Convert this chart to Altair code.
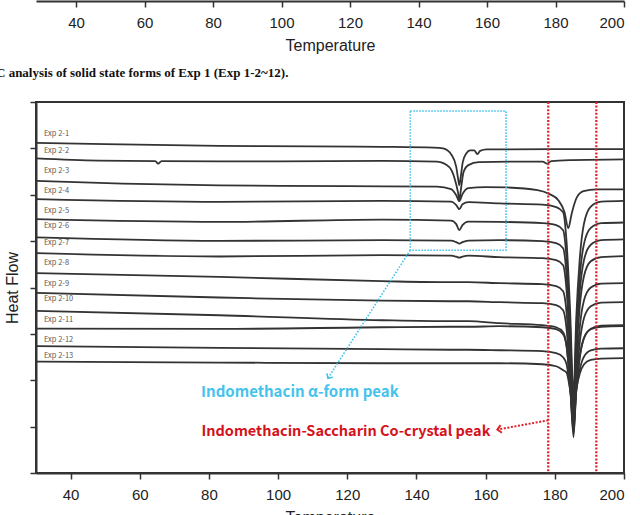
import altair as alt
import pandas as pd

# ---- DSC thermograms, Exp 2-1 .. Exp 2-13 (temperature in deg C, heat flow in stacked units) ----
exp1_t = [30, 50, 83, 110, 130, 145, 147.7, 150.2, 151.5, 152.1, 152.4, 152.8, 153.4, 154.4,
          155.5, 156.7, 157.6, 158.4, 160.3, 180, 200]
exp1_hf = [7.120, 7.092, 7.055, 7.042, 7.033, 7.016, 6.999, 6.854, 6.602, 6.315, 6.207, 6.386,
           6.710, 6.891, 6.956, 6.956, 6.876, 6.947, 6.977, 6.984, 6.984]

exp2_t = [30, 48, 64.5, 65.3, 66.3, 100, 130, 146, 149.5, 151, 152, 152.4, 152.9, 153.6, 155,
          158, 170, 176.5, 177.8, 179, 185, 200]
exp2_hf = [6.783, 6.736, 6.725, 6.671, 6.725, 6.718, 6.731, 6.714, 6.595, 6.358, 6.056, 5.883,
           6.142, 6.488, 6.639, 6.703, 6.714, 6.714, 6.671, 6.725, 6.746, 6.762]

exp3_t = [30, 55, 83, 120, 146, 150, 151.5, 152.4, 153.3, 155, 160, 166, 175, 178.5, 181,
          182.8, 183.9, 184.9, 186.4, 188.3, 192, 200]
exp3_hf = [6.300, 6.239, 6.201, 6.186, 6.175, 6.121, 5.991, 5.862, 6.013, 6.142, 6.164, 6.157,
           6.099, 6.013, 5.883, 5.625, 5.279, 5.603, 5.948, 6.078, 6.114, 6.114]

# common temperature grid for the runs showing the co-crystal melt
grid_t = [30, 83, 130, 150, 151.5, 152.4, 153.3, 155, 164, 176.4, 180.4, 182.4,
          183.4, 184.4, 185.4, 186.2, 187.2, 188.4, 190.4, 193.4, 200]
exp4_hf = [5.905, 5.847, 5.868, 5.851, 5.776, 5.689, 5.797, 5.840, 5.812, 5.786, 5.732, 5.625,
           4.982, 3.536, 1.676, 3.353, 4.611, 5.366, 5.743, 5.851, 5.868]
exp5_hf = [5.474, 5.415, 5.463, 5.441, 5.366, 5.236, 5.344, 5.420, 5.415, 5.387, 5.344, 5.236,
           4.619, 3.236, 1.461, 3.038, 4.220, 4.930, 5.284, 5.387, 5.402]
exp6_hf = [5.079, 5.005, 5.020, 5.010, 4.977, 4.945, 4.977, 5.010, 5.020, 4.999, 4.956, 4.848,
           4.265, 2.943, 1.245, 2.762, 3.899, 4.580, 4.921, 5.020, 5.036]
exp7_hf = [4.740, 4.669, 4.697, 4.686, 4.664, 4.643, 4.664, 4.686, 4.654, 4.632, 4.589, 4.481,
           3.929, 2.660, 1.029, 2.488, 3.581, 4.237, 4.565, 4.654, 4.675]
exp8_hf = [4.309, 4.229, 4.136, 4.114, 4.114, 4.114, 4.114, 4.114, 4.093, 4.071, 4.028, 3.920,
           3.458, 2.347, 0.921, 2.190, 3.141, 3.713, 3.998, 4.082, 4.093]
exp9_hf = [3.884, 3.784, 3.715, 3.704, 3.704, 3.704, 3.704, 3.704, 3.683, 3.661, 3.618, 3.510,
           3.100, 2.080, 0.770, 1.935, 2.809, 3.333, 3.597, 3.672, 3.683]
exp10_hf = [3.495, 3.402, 3.294, 3.273, 3.273, 3.273, 3.273, 3.273, 3.230, 3.187, 3.143, 3.036,
            2.738, 1.914, 0.857, 1.789, 2.488, 2.906, 3.111, 3.176, 3.187]
exp11_hf = [3.115, 3.107, 3.143, 3.154, 3.154, 3.154, 3.154, 3.154, 3.165, 3.143, 3.100, 2.992,
            2.725, 1.955, 0.964, 1.845, 2.505, 2.902, 3.100, 3.154, 3.165]
exp12_hf = [2.734, 2.697, 2.669, 2.658, 2.658, 2.658, 2.658, 2.658, 2.647, 2.626, 2.583, 2.496,
            2.345, 1.817, 1.137, 1.758, 2.224, 2.505, 2.643, 2.680, 2.690]
exp13_hf = [2.403, 2.382, 2.367, 2.367, 2.367, 2.367, 2.367, 2.367, 2.367, 2.345, 2.302, 2.216,
            2.164, 1.808, 1.353, 1.802, 2.138, 2.341, 2.442, 2.468, 2.475]

run_names = ["Exp 2-%d" % i for i in range(1, 14)]
run_label_hf = [7.307, 6.941, 6.509, 6.078, 5.646, 5.322, 4.956, 4.524, 4.071, 3.748, 3.294,
                2.863, 2.518]
label_t = 32.3

x_ticks = [40, 60, 80, 100, 120, 140, 160, 180, 200]
y_ticks = [0, 1, 2, 3, 4, 5, 6, 7, 8]

# annotation geometry (temperature / heat-flow units)
cocrystal_limits = [178.1, 192.0]
alpha_box = {"t0": 138.2, "t1": 165.9, "h0": 4.805, "h1": 7.804}
alpha_arrow = {"t0": 138.2, "h0": 4.805, "t1": 114.4, "h1": 2.043}
cocrystal_arrow = {"t0": 178.1, "h0": 1.137, "t1": 163.4, "h1": 0.936}
alpha_text = {"t": 106.3, "h": 1.741, "label": "Indomethacin α-form peak"}
cocrystal_text = {"t": 119.6, "h": 0.878, "label": "Indomethacin-Saccharin Co-crystal peak"}
caption = "C analysis of solid state forms of Exp 1 (Exp 1-2~12)."

CYAN = "#45C3EC"
RED = "#E0202A"
INK = "#333333"

# ---- long table of all runs ----
series = [(exp1_t, exp1_hf), (exp2_t, exp2_hf), (exp3_t, exp3_hf)] + [
    (grid_t, hf) for hf in [exp4_hf, exp5_hf, exp6_hf, exp7_hf, exp8_hf, exp9_hf, exp10_hf,
                            exp11_hf, exp12_hf, exp13_hf]]
rows = []
for name, (ts, hs) in zip(run_names, series):
    for t, h in zip(ts, hs):
        rows.append({"T": t, "HF": h, "run": name})
curves = pd.DataFrame(rows)
labels = pd.DataFrame({"T": [label_t] * len(run_names), "HF": run_label_hf, "run": run_names})

x_scale = alt.Scale(domain=[30, 200], nice=False, zero=False)
y_scale = alt.Scale(domain=[0, 8], nice=False, zero=False)

x_axis = alt.Axis(values=x_ticks, title="Temperature", grid=False, tickSize=6, labelPadding=15,
                  labelBaseline="middle", titleY=44, titleBaseline="middle")
y_axis = alt.Axis(values=y_ticks, labels=False, title="Heat Flow", grid=False, tickSize=6,
                  titleAngle=-90, titleX=-24, titleY=185.5, titleAlign="center",
                  titleBaseline="middle")


def X(field):
    return alt.X(field, type="quantitative", scale=x_scale, axis=x_axis, title="Temperature")


def Y(field):
    return alt.Y(field, type="quantitative", scale=y_scale, axis=y_axis, title="Heat Flow")


lines = alt.Chart(curves).mark_line(color=INK, strokeWidth=1.8, interpolate="monotone").encode(
    x=X("T"), y=Y("HF"), detail="run:N")

run_text = alt.Chart(labels).mark_text(
    align="left", baseline="middle", font="Noto Sans CJK KR", fontSize=7.5, color="#5a5a5a"
).encode(x=X("T"), y=Y("HF"), text="run:N")

box = alt.Chart(pd.DataFrame([alpha_box])).mark_rect(
    filled=False, stroke=CYAN, strokeWidth=1.5, strokeDash=[1.6, 1.4]
).encode(x=X("t0"), x2="t1", y=Y("h0"), y2="h1")

arrow_a = alt.Chart(pd.DataFrame([alpha_arrow])).mark_rule(
    color=CYAN, strokeWidth=1.6, strokeDash=[1.6, 1.6]
).encode(x=X("t0"), x2="t1", y=Y("h0"), y2="h1")
head_a = alt.Chart(pd.DataFrame([alpha_arrow])).mark_point(
    shape="M-1,-1L0,0L1,-1", filled=False, size=50, angle=33, color=CYAN, strokeWidth=1.6, opacity=1
).encode(x=X("t1"), y=Y("h1"))
text_a = alt.Chart(pd.DataFrame([alpha_text])).mark_text(
    font="Noto Sans CJK KR", fontWeight="bold", fontSize=15, color=CYAN, baseline="middle"
).encode(x=X("t"), y=Y("h"), text="label:N")

limits = alt.Chart(pd.DataFrame({"T": cocrystal_limits})).mark_rule(
    color=RED, strokeWidth=2.2, strokeDash=[2, 1.6]
).encode(x=X("T"))

arrow_c = alt.Chart(pd.DataFrame([cocrystal_arrow])).mark_rule(
    color=RED, strokeWidth=2, strokeDash=[2, 1.6]
).encode(x=X("t0"), x2="t1", y=Y("h0"), y2="h1")
head_c = alt.Chart(pd.DataFrame([cocrystal_arrow])).mark_point(
    shape="M-1,-1L0,0L1,-1", filled=False, size=60, angle=80, color=RED, strokeWidth=2, opacity=1
).encode(x=X("t1"), y=Y("h1"))
text_c = alt.Chart(pd.DataFrame([cocrystal_text])).mark_text(
    font="Noto Sans CJK KR", fontWeight="bold", fontSize=14.5, color="#D4121C", baseline="middle"
).encode(x=X("t"), y=Y("h"), text="label:N")

cap = alt.Chart(pd.DataFrame({"label": [caption]})).mark_text(
    align="left", baseline="middle", font="Liberation Serif", fontWeight="bold", fontSize=13,
    color="#111111"
).encode(x=alt.value(-40), y=alt.value(-29), text="label:N")

# temperature axis of the preceding figure, sitting at the top edge of the page
upper = alt.Chart(pd.DataFrame({"T_upper": x_ticks})).mark_point(opacity=0).encode(
    x=alt.X("T_upper:Q", scale=alt.Scale(domain=[28.3, 200], nice=False, zero=False),
            axis=alt.Axis(orient="bottom", offset=-472, values=x_ticks, title="Temperature",
                          grid=False, tickSize=6, labelPadding=15, labelBaseline="middle",
                          titleY=44, titleBaseline="middle")),
    y=alt.value(0))

main = alt.layer(lines, run_text, box, arrow_a, head_a, text_a, limits, arrow_c, head_c,
                 text_c, cap)

chart = alt.layer(main, upper).resolve_scale(x="independent").properties(
    width=588, height=371,
    padding={"left": 36, "top": 102, "right": 16, "bottom": 42},
    autosize=alt.AutoSizeParams(type="none"),
).configure_view(stroke=INK, strokeWidth=2).configure_axis(
    domainColor=INK, domainWidth=2, tickColor=INK, tickWidth=1.5,
    labelFont="Liberation Sans", labelFontSize=15, labelColor="#222222",
    titleFont="Liberation Sans", titleFontSize=16, titleFontWeight="normal", titleColor="#222222",
)

chart.save("out.html", embed_options={"renderer": "svg", "actions": False})
